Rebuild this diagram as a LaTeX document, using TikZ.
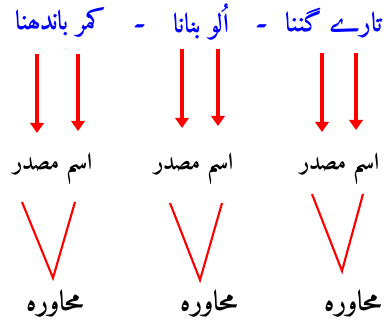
\documentclass[tikz,border=0pt]{standalone}
\usepackage{fontspec}
\usetikzlibrary{arrows.meta}
\newfontfamily\urdufont[Script=Arabic, Language=Urdu]{Amiri}
\TeXXeTstate=1

\begin{document}
\begin{tikzpicture}[x=0.75pt, y=-0.75pt, >={Triangle[width=10pt, length=7.5pt]},
    phrase/.style={font=\urdufont\bfseries\fontsize{20}{24}\selectfont, text=blue, inner sep=0pt},
    term/.style={font=\urdufont\bfseries\fontsize{17.5}{20}\selectfont, inner sep=0pt},
    bigterm/.style={term, font=\urdufont\bfseries\fontsize{21}{24}\selectfont},
    down/.style={->, red, line width=3.6pt},
    vee/.style={red, line width=1.6pt, line join=miter}]

    \useasboundingbox (0,0) rectangle (384,327);

    % ================= IDIOMS =================
    \node[phrase] (taare) at (334,23) {\beginR تارے گننا\endR};
    \node[phrase] (dash1) at (262,26) {\beginR ۔\endR};
    \node[phrase] (ullu)  at (201,22) {\beginR اُلو بنانا\endR};
    \node[phrase] (dash2) at (140,26) {\beginR ۔\endR};
    \node[phrase] (kamar) at (61,23)  {\beginR کمر باندھنا\endR};

    % ================= ISM-E-MASDAR =================
    \node[term] (ism1) at (53,168)  {\beginR اسم مصدر\endR};
    \node[term] (ism2) at (194,168) {\beginR اسم مصدر\endR};
    \node[term] (ism3) at (340,168) {\beginR اسم مصدر\endR};

    % ================= MUHAVARA =================
    \node[bigterm] (muh1) at (55,303)  {\beginR محاورہ\endR};
    \node[bigterm] (muh2) at (209,303) {\beginR محاورہ\endR};
    \node[bigterm] (muh3) at (353,303) {\beginR محاورہ\endR};

    % arrows: idiom -> ism-e-masdar
    \foreach \x/\t/\b [count=\i] in {37/54/133, 78/54/131, 182/49/128, 218/49/126, 322/53/132, 356/53/130} {
        \coordinate (from\i) at (\x,\t);
        \coordinate (to\i) at (\x,\b);
        \draw[down] (from\i) -- (to\i);
    }

    % V shapes above muhavara
    \foreach \l/\r/\t/\bx/\by [count=\i] in {22/75/202/53/278, 170/222/203/200/280, 312/363/194/342/271} {
        \coordinate (vl\i) at (\l,\t);
        \coordinate (vr\i) at (\r,\t);
        \coordinate (vb\i) at (\bx,\by);
        \draw[vee] (vl\i) -- (vb\i) -- (vr\i);
    }

\end{tikzpicture}
\end{document}
